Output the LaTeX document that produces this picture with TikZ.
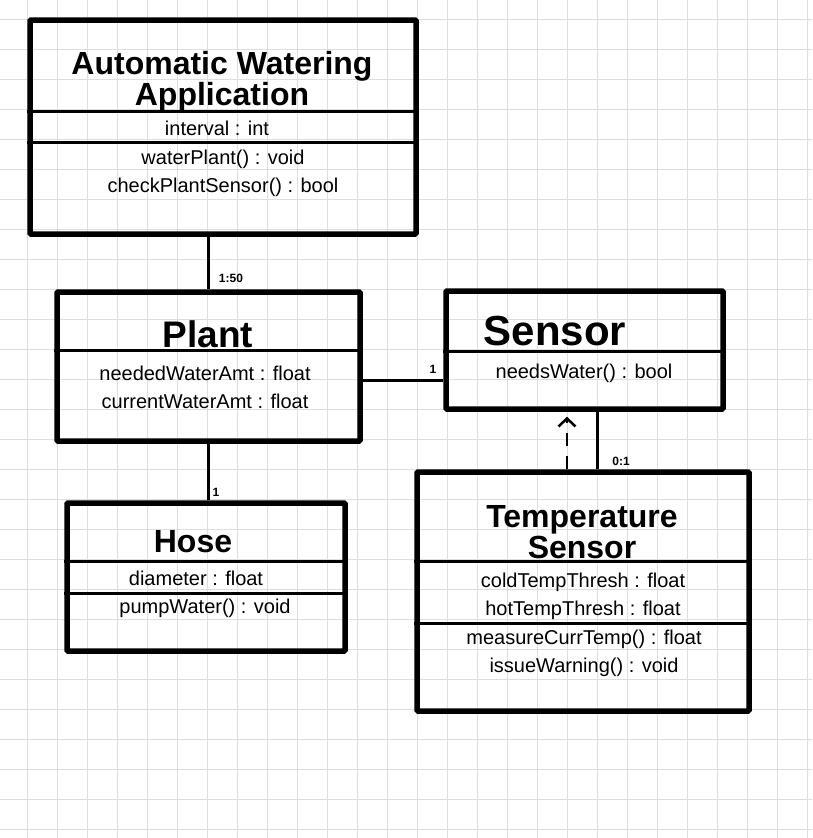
\documentclass[tikz,border=0pt]{standalone}
\usepackage{fontspec}
\setmainfont{Liberation Sans}
\usetikzlibrary{arrows.meta}
\definecolor{gridgray}{RGB}{222,222,222}

\begin{document}
\begin{tikzpicture}[x=1pt,y=-1pt,
  classbox/.style={draw,line width=5.5pt,rounded corners=1pt,inner sep=0pt},
  divider/.style={line width=3pt},
  gridline/.style={draw=gridgray,line width=1pt},
  classname/.style={font=\bfseries\fontsize{32}{31}\selectfont,align=center,inner sep=0pt},
  member/.style={font=\fontsize{20}{28}\selectfont,align=center,inner sep=0pt},
  mult/.style={font=\bfseries\fontsize{12}{12}\selectfont,inner sep=0pt},
  assoc/.style={line width=3pt},
  realize/.style={line width=2.5pt,dash pattern=on 13pt off 10pt,shorten >=5pt,
    -{Straight Barb[length=8pt,width=17pt,line width=2.5pt]}}]
	    \useasboundingbox (0,0) rectangle (812,838);
	    \fill[white] (0,0) rectangle (812,838);
	    \foreach \gx in {27,57,...,807} \draw[gridline] (\gx,0) -- (\gx,838);
	    \foreach \gy in {19,49,...,829} \draw[gridline] (0,\gy) -- (812,\gy);

	    % class boxes
	    \node[classbox,minimum width=386pt,minimum height=214pt] (awa) at (223,127) {};
	    \node[classbox,minimum width=303pt,minimum height=149pt] (plant) at (208.5,366.5) {};
	    \node[classbox,minimum width=277pt,minimum height=118pt] (sensor) at (584.5,350) {};
	    \node[classbox,minimum width=278pt,minimum height=148pt] (hose) at (206,577) {};
	    \node[classbox,minimum width=332pt,minimum height=239pt] (ts) at (583,591.5) {};

	    \draw[divider] (awa.west |- 0,111) -- (awa.east |- 0,111);
	    \draw[divider] (awa.west |- 0,142) -- (awa.east |- 0,142);
	    \draw[divider] (plant.west |- 0,350) -- (plant.east |- 0,350);
	    \draw[divider] (sensor.west |- 0,351) -- (sensor.east |- 0,351);
	    \draw[divider] (hose.west |- 0,561) -- (hose.east |- 0,561);
	    \draw[divider] (hose.west |- 0,593) -- (hose.east |- 0,593);
	    \draw[divider] (ts.west |- 0,561) -- (ts.east |- 0,561);
	    \draw[divider] (ts.west |- 0,623) -- (ts.east |- 0,623);

	    % texts
	    \node[classname] (awaname) at (222,82) {Automatic Watering\\Application};
	    \node[member] (awaattr) at (217,128) {interval : int};
	    \node[member] (awaops) at (223,173) {waterPlant() : void\\checkPlantSensor() : bool};
	    \node[classname,font=\bfseries\fontsize{37}{37}\selectfont] (plantname) at (208,334) {Plant};
	    \node[member] (plantattr) at (205,387) {neededWaterAmt : float\\currentWaterAmt : float};
	    \node[classname,font=\bfseries\fontsize{42}{42}\selectfont] (sensorname) at (555,331) {Sensor};
	    \node[member] (sensorops) at (584,373) {needsWater() : bool};
	    \node[classname] (hosename) at (193,542) {Hose};
	    \node[member] (hoseattr) at (196,578) {diameter : float};
	    \node[member] (hoseops) at (205,608) {pumpWater() : void};
	    \node[classname] (tsname) at (582,532) {Temperature\\Sensor};
	    \node[member] (tsattr) at (583,596) {coldTempThresh : float\\hotTempThresh : float};
	    \node[member] (tsops) at (584,653) {measureCurrTemp() : float\\issueWarning() : void};

	    % connectors
	    \draw[assoc] (plant.north) -- (plant.north |- awa.south);
	    \draw[assoc] ([yshift=-13.5pt]plant.east) -- ([yshift=-13.5pt]plant.east -| sensor.west);
	    \draw[assoc] (plant.south) -- (plant.south |- hose.north);
	    \draw[realize] ([xshift=-16pt]ts.north) -- ([xshift=-16pt]ts.north |- sensor.south);
	    \draw[assoc] ([xshift=14pt]ts.north) -- ([xshift=14pt]ts.north |- sensor.south);

	    \node[mult] (m150) at (231,278) {1:50};
	    \node[mult] (m1a) at (433,369) {1};
	    \node[mult] (m1b) at (216,492) {1};
	    \node[mult] (m01) at (621,461) {0:1};
\end{tikzpicture}
\end{document}
